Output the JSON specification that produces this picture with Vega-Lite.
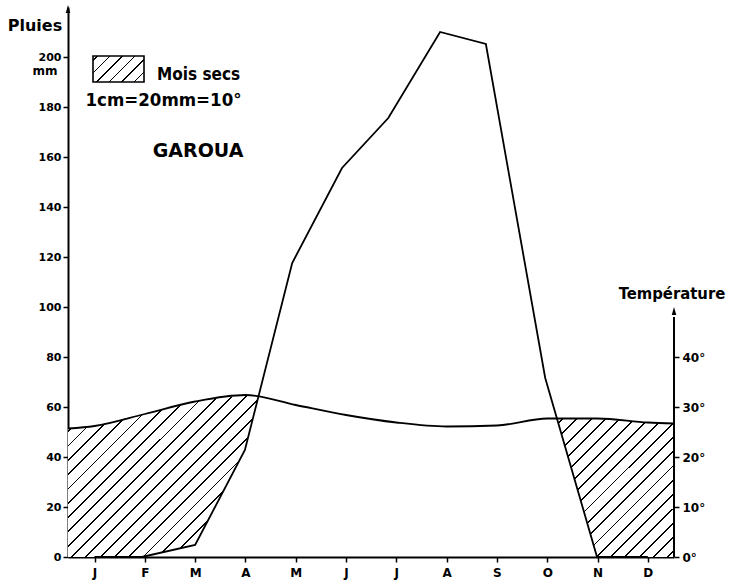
{
  "$schema": "https://vega.github.io/schema/vega-lite/v6.json",
  "autosize": "none",
  "width": 606,
  "height": 550,
  "padding": {"left": 68, "top": 7, "right": 61, "bottom": 29},
  "background": "white",
  "config": {
    "view": {"stroke": null},
    "font": "DejaVu Sans",
    "axis": {"labelFont": "DejaVu Sans", "labelFontWeight": "bold", "labelColor": "black", "domainColor": "black", "tickColor": "black", "grid": false, "title": null}
  },
  "datasets": {
    "rain": [
      {"m": 0, "mon": "J", "rain": 0},
      {"m": 0.94, "mon": "F", "rain": 0},
      {"m": 2.0, "mon": "M", "rain": 4.8},
      {"m": 2.99, "mon": "A", "rain": 42.8},
      {"m": 3.93, "mon": "M", "rain": 117.6},
      {"m": 4.92, "mon": "J", "rain": 155.6},
      {"m": 5.84, "mon": "J", "rain": 175.6},
      {"m": 6.87, "mon": "A", "rain": 210},
      {"m": 7.78, "mon": "S", "rain": 205.2},
      {"m": 8.96, "mon": "O", "rain": 71.6},
      {"m": 9.99, "mon": "N", "rain": 0},
      {"m": 11, "mon": "D", "rain": 0}
    ],
    "temp": [
      {"m": -0.527, "temp": 25.7},
      {"m": 0, "temp": 26.2},
      {"m": 1, "temp": 28.6},
      {"m": 2, "temp": 31.1},
      {"m": 3, "temp": 32.4},
      {"m": 4, "temp": 30.4},
      {"m": 5, "temp": 28.4},
      {"m": 6, "temp": 26.9},
      {"m": 7, "temp": 26.1},
      {"m": 8, "temp": 26.3},
      {"m": 9, "temp": 27.7},
      {"m": 10, "temp": 27.7},
      {"m": 11, "temp": 26.9},
      {"m": 11.52, "temp": 26.7}
    ],
    "dry": [
      {"p": 1, "m": -0.527, "top": 51.4, "bottom": 0},
      {"p": 1, "m": 0, "top": 52.4, "bottom": 0},
      {"p": 1, "m": 0.94, "top": 57.0, "bottom": 0},
      {"p": 1, "m": 2.0, "top": 62.2, "bottom": 4.8},
      {"p": 1, "m": 2.99, "top": 64.8, "bottom": 42.8},
      {"p": 1, "m": 3.253, "top": 63.75, "bottom": 63.75},
      {"p": 2, "m": 9.193, "top": 55.4, "bottom": 55.4},
      {"p": 2, "m": 9.99, "top": 55.4, "bottom": 0},
      {"p": 2, "m": 11, "top": 53.8, "bottom": 0},
      {"p": 2, "m": 11.52, "top": 53.4, "bottom": 0}
    ],
    "one": [{}]
  },
  "resolve": {"scale": {"y": "independent"}, "axis": {"x": "independent", "y": "independent"}},
  "layer": [
    {
      "data": {"name": "dry"},
      "transform": [{"filter": "datum.p == 1"}],
      "mark": {"type": "area", "strokeWidth": 0, "color": {"gradient": "linear", "x1": 0, "y1": 0, "x2": 1.1, "y2": 0.9379, "stops": [
        {"offset": 0, "color": "white"},
        {"offset": 0.0200, "color": "white"}, {"offset": 0.0200, "color": "black"}, {"offset": 0.0251, "color": "black"}, {"offset": 0.0251, "color": "white"},
        {"offset": 0.0596, "color": "white"}, {"offset": 0.0596, "color": "black"}, {"offset": 0.0647, "color": "black"}, {"offset": 0.0647, "color": "white"},
        {"offset": 0.0992, "color": "white"}, {"offset": 0.0992, "color": "black"}, {"offset": 0.1043, "color": "black"}, {"offset": 0.1043, "color": "white"},
        {"offset": 0.1389, "color": "white"}, {"offset": 0.1389, "color": "black"}, {"offset": 0.1440, "color": "black"}, {"offset": 0.1440, "color": "white"},
        {"offset": 0.1785, "color": "white"}, {"offset": 0.1785, "color": "black"}, {"offset": 0.1836, "color": "black"}, {"offset": 0.1836, "color": "white"},
        {"offset": 0.2181, "color": "white"}, {"offset": 0.2181, "color": "black"}, {"offset": 0.2232, "color": "black"}, {"offset": 0.2232, "color": "white"},
        {"offset": 0.2577, "color": "white"}, {"offset": 0.2577, "color": "black"}, {"offset": 0.2628, "color": "black"}, {"offset": 0.2628, "color": "white"},
        {"offset": 0.2973, "color": "white"}, {"offset": 0.2973, "color": "black"}, {"offset": 0.3024, "color": "black"}, {"offset": 0.3024, "color": "white"},
        {"offset": 0.3370, "color": "white"}, {"offset": 0.3370, "color": "black"}, {"offset": 0.3421, "color": "black"}, {"offset": 0.3421, "color": "white"},
        {"offset": 0.3766, "color": "white"}, {"offset": 0.3766, "color": "black"}, {"offset": 0.3817, "color": "black"}, {"offset": 0.3817, "color": "white"},
        {"offset": 0.4162, "color": "white"}, {"offset": 0.4162, "color": "black"}, {"offset": 0.4213, "color": "black"}, {"offset": 0.4213, "color": "white"},
        {"offset": 0.4558, "color": "white"}, {"offset": 0.4558, "color": "black"}, {"offset": 0.4609, "color": "black"}, {"offset": 0.4609, "color": "white"},
        {"offset": 0.4954, "color": "white"}, {"offset": 0.4954, "color": "black"}, {"offset": 0.5005, "color": "black"}, {"offset": 0.5005, "color": "white"},
        {"offset": 0.5351, "color": "white"}, {"offset": 0.5351, "color": "black"}, {"offset": 0.5402, "color": "black"}, {"offset": 0.5402, "color": "white"},
        {"offset": 0.5747, "color": "white"}, {"offset": 0.5747, "color": "black"}, {"offset": 0.5798, "color": "black"}, {"offset": 0.5798, "color": "white"},
        {"offset": 0.6143, "color": "white"}, {"offset": 0.6143, "color": "black"}, {"offset": 0.6194, "color": "black"}, {"offset": 0.6194, "color": "white"},
        {"offset": 0.6539, "color": "white"}, {"offset": 0.6539, "color": "black"}, {"offset": 0.6590, "color": "black"}, {"offset": 0.6590, "color": "white"},
        {"offset": 0.6935, "color": "white"}, {"offset": 0.6935, "color": "black"}, {"offset": 0.6986, "color": "black"}, {"offset": 0.6986, "color": "white"},
        {"offset": 0.7332, "color": "white"}, {"offset": 0.7332, "color": "black"}, {"offset": 0.7383, "color": "black"}, {"offset": 0.7383, "color": "white"},
        {"offset": 0.7728, "color": "white"}, {"offset": 0.7728, "color": "black"}, {"offset": 0.7779, "color": "black"}, {"offset": 0.7779, "color": "white"},
        {"offset": 0.8124, "color": "white"}, {"offset": 0.8124, "color": "black"}, {"offset": 0.8175, "color": "black"}, {"offset": 0.8175, "color": "white"},
        {"offset": 0.8520, "color": "white"}, {"offset": 0.8520, "color": "black"}, {"offset": 0.8571, "color": "black"}, {"offset": 0.8571, "color": "white"},
        {"offset": 0.8916, "color": "white"}, {"offset": 0.8916, "color": "black"}, {"offset": 0.8967, "color": "black"}, {"offset": 0.8967, "color": "white"},
        {"offset": 0.9313, "color": "white"}, {"offset": 0.9313, "color": "black"}, {"offset": 0.9364, "color": "black"}, {"offset": 0.9364, "color": "white"},
        {"offset": 0.9709, "color": "white"}, {"offset": 0.9709, "color": "black"}, {"offset": 0.9760, "color": "black"}, {"offset": 0.9760, "color": "white"},
        {"offset": 1, "color": "white"}
      ]}},
      "encoding": {
        "x": {"field": "m", "type": "quantitative", "scale": {"domain": [-0.527, 11.52], "nice": false, "zero": false}, "axis": null},
        "y": {"field": "top", "type": "quantitative", "scale": {"domain": [0, 220], "nice": false}, "axis": null},
        "y2": {"field": "bottom"}
      }
    },
    {
      "data": {"name": "dry"},
      "transform": [{"filter": "datum.p == 2"}],
      "mark": {"type": "area", "strokeWidth": 0, "color": {"gradient": "linear", "x1": 0, "y1": 0, "x2": 0.929, "y2": 1.1, "stops": [
        {"offset": 0, "color": "white"},
        {"offset": 0.0200, "color": "white"}, {"offset": 0.0200, "color": "black"}, {"offset": 0.0271, "color": "black"}, {"offset": 0.0271, "color": "white"},
        {"offset": 0.0748, "color": "white"}, {"offset": 0.0748, "color": "black"}, {"offset": 0.0819, "color": "black"}, {"offset": 0.0819, "color": "white"},
        {"offset": 0.1296, "color": "white"}, {"offset": 0.1296, "color": "black"}, {"offset": 0.1367, "color": "black"}, {"offset": 0.1367, "color": "white"},
        {"offset": 0.1844, "color": "white"}, {"offset": 0.1844, "color": "black"}, {"offset": 0.1915, "color": "black"}, {"offset": 0.1915, "color": "white"},
        {"offset": 0.2392, "color": "white"}, {"offset": 0.2392, "color": "black"}, {"offset": 0.2463, "color": "black"}, {"offset": 0.2463, "color": "white"},
        {"offset": 0.2940, "color": "white"}, {"offset": 0.2940, "color": "black"}, {"offset": 0.3011, "color": "black"}, {"offset": 0.3011, "color": "white"},
        {"offset": 0.3488, "color": "white"}, {"offset": 0.3488, "color": "black"}, {"offset": 0.3559, "color": "black"}, {"offset": 0.3559, "color": "white"},
        {"offset": 0.4036, "color": "white"}, {"offset": 0.4036, "color": "black"}, {"offset": 0.4107, "color": "black"}, {"offset": 0.4107, "color": "white"},
        {"offset": 0.4584, "color": "white"}, {"offset": 0.4584, "color": "black"}, {"offset": 0.4655, "color": "black"}, {"offset": 0.4655, "color": "white"},
        {"offset": 0.5132, "color": "white"}, {"offset": 0.5132, "color": "black"}, {"offset": 0.5203, "color": "black"}, {"offset": 0.5203, "color": "white"},
        {"offset": 0.5680, "color": "white"}, {"offset": 0.5680, "color": "black"}, {"offset": 0.5751, "color": "black"}, {"offset": 0.5751, "color": "white"},
        {"offset": 0.6228, "color": "white"}, {"offset": 0.6228, "color": "black"}, {"offset": 0.6299, "color": "black"}, {"offset": 0.6299, "color": "white"},
        {"offset": 0.6776, "color": "white"}, {"offset": 0.6776, "color": "black"}, {"offset": 0.6847, "color": "black"}, {"offset": 0.6847, "color": "white"},
        {"offset": 0.7324, "color": "white"}, {"offset": 0.7324, "color": "black"}, {"offset": 0.7395, "color": "black"}, {"offset": 0.7395, "color": "white"},
        {"offset": 0.7872, "color": "white"}, {"offset": 0.7872, "color": "black"}, {"offset": 0.7943, "color": "black"}, {"offset": 0.7943, "color": "white"},
        {"offset": 0.8420, "color": "white"}, {"offset": 0.8420, "color": "black"}, {"offset": 0.8491, "color": "black"}, {"offset": 0.8491, "color": "white"},
        {"offset": 0.8968, "color": "white"}, {"offset": 0.8968, "color": "black"}, {"offset": 0.9039, "color": "black"}, {"offset": 0.9039, "color": "white"},
        {"offset": 0.9516, "color": "white"}, {"offset": 0.9516, "color": "black"}, {"offset": 0.9587, "color": "black"}, {"offset": 0.9587, "color": "white"},
        {"offset": 1, "color": "white"}
      ]}},
      "encoding": {
        "x": {"field": "m", "type": "quantitative", "scale": {"domain": [-0.527, 11.52], "nice": false, "zero": false}, "axis": null},
        "y": {"field": "top", "type": "quantitative", "scale": {"domain": [0, 220], "nice": false}, "axis": null},
        "y2": {"field": "bottom"}
      }
    },
    {
      "data": {"name": "one"},
      "mark": {"type": "rect", "stroke": "black", "strokeWidth": 1.6, "color": {"gradient": "linear", "x1": 0, "y1": 0, "x2": 1.1, "y2": 0.5608, "stops": [
        {"offset": 0, "color": "white"},
        {"offset": 0.050, "color": "white"}, {"offset": 0.050, "color": "black"}, {"offset": 0.076, "color": "black"}, {"offset": 0.076, "color": "white"},
        {"offset": 0.227, "color": "white"}, {"offset": 0.227, "color": "black"}, {"offset": 0.253, "color": "black"}, {"offset": 0.253, "color": "white"},
        {"offset": 0.404, "color": "white"}, {"offset": 0.404, "color": "black"}, {"offset": 0.430, "color": "black"}, {"offset": 0.430, "color": "white"},
        {"offset": 0.581, "color": "white"}, {"offset": 0.581, "color": "black"}, {"offset": 0.607, "color": "black"}, {"offset": 0.607, "color": "white"},
        {"offset": 0.758, "color": "white"}, {"offset": 0.758, "color": "black"}, {"offset": 0.784, "color": "black"}, {"offset": 0.784, "color": "white"},
        {"offset": 0.935, "color": "white"}, {"offset": 0.935, "color": "black"}, {"offset": 0.961, "color": "black"}, {"offset": 0.961, "color": "white"},
        {"offset": 1, "color": "white"}
      ]}},
      "encoding": {
        "x": {"datum": -0.03, "type": "quantitative", "scale": {"domain": [-0.527, 11.52], "nice": false, "zero": false}, "axis": null},
        "x2": {"datum": 0.984},
        "y": {"datum": 190, "type": "quantitative", "scale": {"domain": [0, 220], "nice": false}, "axis": null},
        "y2": {"datum": 200.4}
      }
    },
    {
      "data": {"name": "rain"},
      "mark": {"type": "line", "color": "black", "strokeWidth": 1.8},
      "encoding": {
        "x": {"field": "m", "type": "quantitative", "scale": {"domain": [-0.527, 11.52], "nice": false, "zero": false},
          "axis": {"orient": "bottom", "title": null, "values": [0, 1, 2, 3, 4, 5, 6, 7, 8, 9, 10, 11], "labelExpr": "['J','F','M','A','M','J','J','A','S','O','N','D'][datum.value]", "tickSize": 5, "tickWidth": 1.5, "domainWidth": 2, "labelPadding": 5, "labelFontSize": 12, "labelFlush": false}},
        "y": {"field": "rain", "type": "quantitative", "scale": {"domain": [0, 220], "nice": false},
          "axis": {"orient": "left", "title": null, "values": [0, 20, 40, 60, 80, 100, 120, 140, 160, 180, 200], "tickSize": 5, "tickWidth": 1.5, "domainWidth": 2, "labelPadding": 2, "labelFontSize": 11, "labelFlush": false}}
      }
    },
    {
      "data": {"name": "temp"},
      "mark": {"type": "line", "color": "black", "strokeWidth": 1.8, "interpolate": "monotone"},
      "encoding": {
        "x": {"field": "m", "type": "quantitative", "scale": {"domain": [-0.527, 11.52], "nice": false, "zero": false}, "axis": null},
        "y": {"field": "temp", "type": "quantitative", "scale": {"domain": [0, 110], "nice": false},
          "axis": {"orient": "right", "title": null, "values": [0, 10, 20, 30, 40], "labelExpr": "datum.value + '°'", "domain": false, "tickSize": 5, "tickWidth": 1.5, "labelPadding": 3, "labelFontSize": 12, "labelFlush": false}}
      }
    },
    {
      "data": {"name": "one"},
      "mark": {"type": "rule", "color": "black", "strokeWidth": 2},
      "encoding": {
        "x": {"datum": 11.52, "type": "quantitative", "scale": {"domain": [-0.527, 11.52], "nice": false, "zero": false}, "axis": null},
        "y": {"datum": 0, "type": "quantitative", "scale": {"domain": [0, 110], "nice": false}, "axis": null},
        "y2": {"datum": 48}
      }
    },
    {
      "data": {"name": "one"},
      "mark": {"type": "point", "shape": "M0,-1L0.45,0.6L-0.45,0.6Z", "filled": true, "color": "black", "size": 100, "opacity": 1},
      "encoding": {
        "x": {"datum": 11.52, "type": "quantitative", "scale": {"domain": [-0.527, 11.52], "nice": false, "zero": false}, "axis": null},
        "y": {"datum": 49, "type": "quantitative", "scale": {"domain": [0, 110], "nice": false}, "axis": null}
      }
    },
    {
      "data": {"name": "one"},
      "mark": {"type": "point", "shape": "M0,-1L0.45,0.6L-0.45,0.6Z", "filled": true, "color": "black", "size": 100, "opacity": 1},
      "encoding": {
        "x": {"datum": -0.527, "type": "quantitative", "scale": {"domain": [-0.527, 11.52], "nice": false, "zero": false}, "axis": null},
        "y": {"datum": 218.8, "type": "quantitative", "scale": {"domain": [0, 220], "nice": false}, "axis": null}
      }
    },
    {
      "data": {"name": "one"},
      "mark": {"type": "text", "text": "Pluies", "font": "DejaVu Sans", "fontWeight": "bold", "fontSize": 16, "align": "center", "baseline": "middle", "color": "black"},
      "encoding": {
        "x": {"datum": -1.183, "type": "quantitative", "scale": {"domain": [-0.527, 11.52], "nice": false, "zero": false}, "axis": null},
        "y": {"datum": 212.4, "type": "quantitative", "scale": {"domain": [0, 220], "nice": false}, "axis": null}
      }
    },
    {
      "data": {"name": "one"},
      "mark": {"type": "text", "text": "mm", "font": "DejaVu Sans", "fontWeight": "bold", "fontSize": 12, "align": "center", "baseline": "middle", "color": "black"},
      "encoding": {
        "x": {"datum": -0.984, "type": "quantitative", "scale": {"domain": [-0.527, 11.52], "nice": false, "zero": false}, "axis": null},
        "y": {"datum": 194.4, "type": "quantitative", "scale": {"domain": [0, 220], "nice": false}, "axis": null}
      }
    },
    {
      "data": {"name": "one"},
      "mark": {"type": "text", "text": "Température", "font": "DejaVu Sans Condensed, DejaVu Sans", "fontWeight": "bold", "fontSize": 16.5, "align": "center", "baseline": "middle", "color": "black"},
      "encoding": {
        "x": {"datum": 11.48, "type": "quantitative", "scale": {"domain": [-0.527, 11.52], "nice": false, "zero": false}, "axis": null},
        "y": {"datum": 105.2, "type": "quantitative", "scale": {"domain": [0, 220], "nice": false}, "axis": null}
      }
    },
    {
      "data": {"name": "one"},
      "mark": {"type": "text", "text": "Mois secs", "font": "DejaVu Sans Condensed, DejaVu Sans", "fontWeight": "bold", "fontSize": 17, "align": "left", "baseline": "middle", "color": "black"},
      "encoding": {
        "x": {"datum": 1.243, "type": "quantitative", "scale": {"domain": [-0.527, 11.52], "nice": false, "zero": false}, "axis": null},
        "y": {"datum": 192.8, "type": "quantitative", "scale": {"domain": [0, 220], "nice": false}, "axis": null}
      }
    },
    {
      "data": {"name": "one"},
      "mark": {"type": "text", "text": "1cm=20mm=10°", "font": "DejaVu Sans Condensed, DejaVu Sans", "fontWeight": "bold", "fontSize": 18.5, "align": "center", "baseline": "middle", "color": "black"},
      "encoding": {
        "x": {"datum": 1.372, "type": "quantitative", "scale": {"domain": [-0.527, 11.52], "nice": false, "zero": false}, "axis": null},
        "y": {"datum": 182.8, "type": "quantitative", "scale": {"domain": [0, 220], "nice": false}, "axis": null}
      }
    },
    {
      "data": {"name": "one"},
      "mark": {"type": "text", "text": "GAROUA", "font": "DejaVu Sans", "fontWeight": "bold", "fontSize": 19, "align": "center", "baseline": "middle", "color": "black"},
      "encoding": {
        "x": {"datum": 2.058, "type": "quantitative", "scale": {"domain": [-0.527, 11.52], "nice": false, "zero": false}, "axis": null},
        "y": {"datum": 162.4, "type": "quantitative", "scale": {"domain": [0, 220], "nice": false}, "axis": null}
      }
    }
  ]
}
